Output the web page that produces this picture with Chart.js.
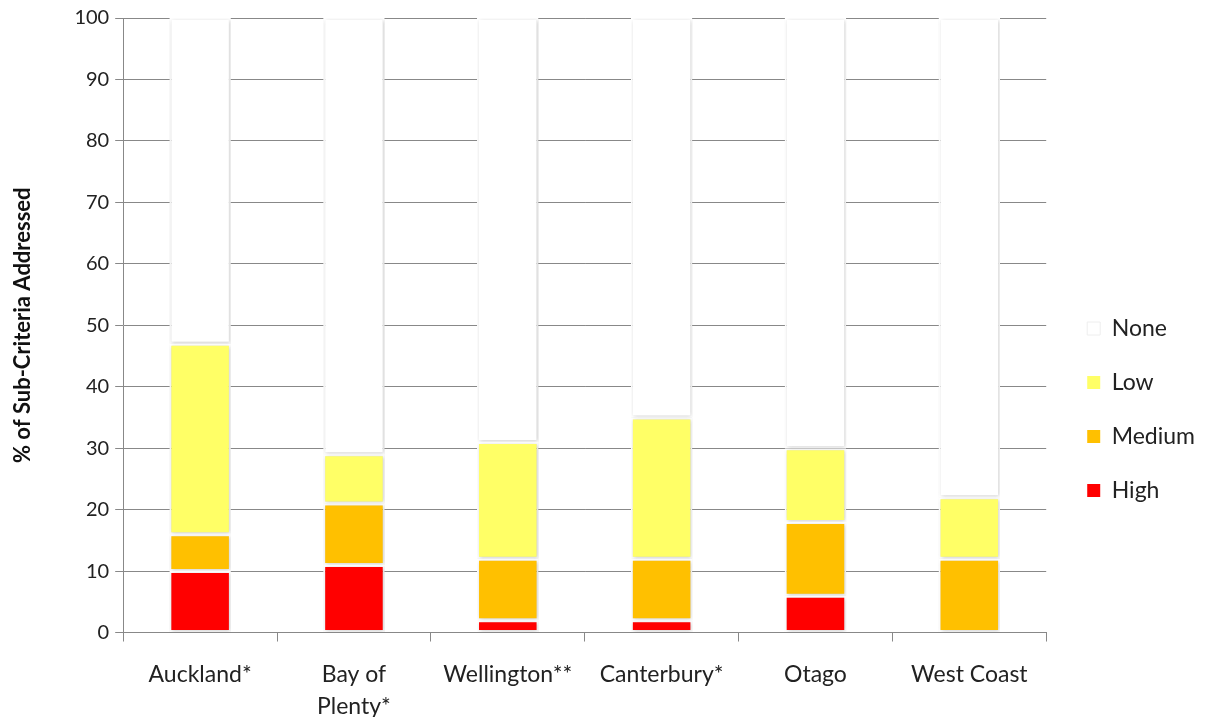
<!DOCTYPE html>
<html>
<head>
<meta charset="utf-8">
<script src="https://cdn.jsdelivr.net/npm/chart.js@4.4.1/dist/chart.umd.min.js"></script>
<style>
  body { margin: 0; background: #fff; }
  #wrap { width: 1211px; height: 717px; }
</style>
</head>
<body>
<div id="wrap"><canvas id="barChart" width="1211" height="717"></canvas></div>
<script>
// regions and % of sub-criteria per level
var regions = ['Auckland*', ['Bay of', 'Plenty*'], 'Wellington**', 'Canterbury*', 'Otago', 'West Coast'];
var high   = [10, 11, 2, 2, 6, 0];
var medium = [6, 10, 10, 10, 12, 12];
var low    = [31, 8, 19, 23, 12, 10];
var none   = [53, 71, 69, 65, 70, 78];

// soft drop shadow under the bars, like the original
var barShadow = {
    id: 'barShadow',
    beforeDatasetsDraw: function (chart) {
        var ctx = chart.ctx;
        ctx.save();
        ctx.shadowColor = 'rgba(0,0,0,0.2)';
        ctx.shadowBlur = 4;
        ctx.shadowOffsetX = 1;
        ctx.shadowOffsetY = 1;
    },
    afterDatasetsDraw: function (chart) {
        chart.ctx.restore();
    }
};

// legend sits a bit below the middle in the original
var legendShift = {
    id: 'legendShift',
    afterLayout: function (chart) {
        chart.legend.top += 31;
        chart.legend.bottom += 31;
        chart.legend.left += 10;
        chart.legend.right += 10;
    }
};

var font = 'Lato, "Open Sans", sans-serif';
var ctxB = document.getElementById('barChart').getContext('2d');
var myBarChart = new Chart(ctxB, {
    type: 'bar',
    data: {
        labels: regions,
        datasets: [
            { label: 'High', data: high, backgroundColor: '#ff0000' },
            { label: 'Medium', data: medium, backgroundColor: '#ffc000' },
            { label: 'Low', data: low, backgroundColor: '#ffff66' },
            { label: 'None', data: none, backgroundColor: '#ffffff' }
        ]
    },
    options: {
        responsive: false,
        animation: false,
        layout: { padding: { top: 18, right: 16, left: 6, bottom: -22 } },
        datasets: {
            bar: {
                borderColor: '#ffffff',
                borderWidth: 2,
                borderSkipped: false,
                barPercentage: 0.4,
                categoryPercentage: 1
            }
        },
        plugins: {
            tooltip: { enabled: false },
            legend: {
                position: 'right',
                reverse: true,
                labels: {
                    font: { family: font, size: 23 },
                    color: '#222',
                    boxWidth: 13,
                    boxHeight: 13,
                    padding: 31,
                    generateLabels: function (chart) {
                        var items = Chart.defaults.plugins.legend.labels.generateLabels(chart);
                        items.forEach(function (it) {
                            it.lineWidth = it.text === 'None' ? 1 : 0;
                            it.strokeStyle = '#eeeeee';
                        });
                        return items;
                    }
                }
            }
        },
        scales: {
            x: {
                stacked: true,
                grid: { offset: true, drawOnChartArea: false, tickLength: 9, color: '#888' },
                border: { color: '#888' },
                ticks: { font: { family: font, size: 23, lineHeight: 1.38 }, color: '#222', padding: 17, maxRotation: 0 }
            },
            y: {
                stacked: true,
                min: 0,
                max: 100,
                ticks: { stepSize: 10, font: { family: font, size: 20 }, color: '#222', padding: 6 },
                grid: { color: '#888', tickLength: 8 },
                border: { color: '#888' },
                title: {
                    display: true,
                    text: '% of Sub-Criteria Addressed',
                    font: { family: font, size: 22, weight: 'bold' },
                    color: '#111',
                    padding: { bottom: 32 }
                }
            }
        }
    },
    plugins: [barShadow, legendShift]
});
</script>
</body>
</html>
